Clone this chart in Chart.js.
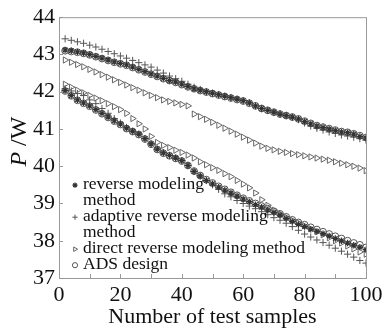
<!DOCTYPE html>
<html>
<head>
<meta charset="utf-8">
<script src="https://cdn.jsdelivr.net/npm/chart.js@4"></script>
<style>
  html, body { margin: 0; padding: 0; background: #fff; }
  #wrap { width: 390px; height: 330px; position: relative; }
</style>
</head>
<body>
<div id="wrap"><canvas id="grafico"></canvas></div>
<script>
// muestras de prueba (eje x)
const muestras = [2,4,6,8,10,12,14,16,18,20,22,24,26,28,30,32,34,36,38,40,42,44,46,48,50,
                  52,54,56,58,60,62,64,66,68,70,72,74,76,78,80,82,84,86,88,90,92,94,96,98,100];

// reverse modeling method
const inversoAlto = [43.12,43.10,43.07,43.04,43.00,42.95,42.90,42.85,42.80,42.76,42.72,42.66,42.60,42.54,42.48,42.42,42.36,42.30,42.26,42.20,42.14,42.08,42.04,42.00,41.96,
                     41.92,41.88,41.84,41.80,41.76,41.70,41.62,41.55,41.50,41.45,41.40,41.36,41.32,41.27,41.20,41.14,41.08,41.04,41.00,40.96,40.92,40.90,40.86,40.80,40.76];
const inversoBajo = [42.03,41.90,41.78,41.70,41.62,41.52,41.42,41.32,41.22,41.13,41.02,40.94,40.86,40.74,40.60,40.46,40.36,40.29,40.22,40.15,40.02,39.86,39.74,39.62,39.53,
                     39.44,39.36,39.28,39.20,39.12,39.05,38.97,38.90,38.83,38.76,38.69,38.60,38.52,38.44,38.38,38.31,38.25,38.19,38.13,38.06,38.00,37.94,37.88,37.83,37.76];

// adaptive reverse modeling method
const adaptativoAlto = [43.42,43.38,43.34,43.30,43.25,43.20,43.14,43.08,43.02,42.96,42.90,42.84,42.78,42.72,42.66,42.58,42.50,42.42,42.35,42.28,42.20,42.12,42.06,42.00,41.96,
                        41.92,41.88,41.84,41.80,41.76,41.70,41.62,41.55,41.50,41.45,41.40,41.36,41.31,41.25,41.16,41.08,41.02,40.97,40.92,40.88,40.84,40.81,40.78,40.74,40.70];
const adaptativoBajo = [42.08,42.02,41.95,41.90,41.78,41.68,41.55,41.42,41.28,41.16,41.04,40.94,40.86,40.74,40.60,40.46,40.36,40.29,40.22,40.15,40.02,39.86,39.74,39.62,39.50,
                        39.38,39.26,39.18,39.08,39.00,38.93,38.86,38.78,38.70,38.62,38.55,38.47,38.38,38.28,38.18,38.10,38.02,37.95,37.88,37.80,37.72,37.64,37.56,37.47,37.40];

// direct reverse modeling method
const directoAlto = [42.85,42.79,42.73,42.67,42.60,42.53,42.46,42.39,42.32,42.25,42.18,42.11,42.04,41.97,41.90,41.84,41.78,41.74,41.70,41.66,41.62,41.40,41.33,41.26,41.18,
                     41.10,41.02,40.94,40.86,40.78,40.70,40.62,40.54,40.48,40.44,40.40,40.37,40.34,40.31,40.28,40.25,40.22,40.19,40.16,40.12,40.08,40.04,40.00,39.95,39.88];
const directoBajo = [42.20,42.12,42.04,41.97,41.90,41.83,41.76,41.68,41.60,41.52,41.42,41.28,41.14,41.00,40.80,40.64,40.56,40.50,40.43,40.37,40.30,40.22,40.12,40.04,39.96,
                     39.89,39.80,39.72,39.62,39.52,39.42,39.28,39.10,38.95,38.82,38.72,38.63,38.55,38.48,38.40,38.32,38.24,38.16,38.08,38.00,37.94,37.86,37.78,37.70,37.64];

// ADS design
const adsAlto = [43.10,43.08,43.06,43.03,42.99,42.94,42.89,42.84,42.79,42.75,42.71,42.65,42.59,42.53,42.47,42.41,42.35,42.30,42.25,42.19,42.13,42.08,42.03,41.99,41.95,
                 41.91,41.87,41.83,41.79,41.75,41.69,41.62,41.55,41.50,41.45,41.40,41.36,41.32,41.27,41.21,41.15,41.09,41.05,41.01,40.97,40.93,40.91,40.87,40.82,40.77];
const adsBajo = [42.02,41.89,41.77,41.69,41.61,41.51,41.41,41.31,41.21,41.12,41.01,40.93,40.85,40.73,40.59,40.45,40.35,40.28,40.21,40.14,40.02,39.87,39.75,39.64,39.55,
                 39.46,39.38,39.30,39.22,39.14,39.07,39.00,38.93,38.86,38.79,38.72,38.64,38.56,38.49,38.43,38.36,38.30,38.24,38.18,38.12,38.06,38.00,37.94,37.89,37.82];

const ticksY = [37, 38, 39, 40, 41, 42, 43, 44];
const ticksX = [0, 10, 20, 30, 40, 50, 60, 70, 80, 90, 100];

const leyenda = [
    { serie: 0, lineas: ['reverse modeling', 'method'] },
    { serie: 2, lineas: ['adaptive reverse modeling', 'method'] },
    { serie: 4, lineas: ['direct reverse modeling method'] },
    { serie: 6, lineas: ['ADS design'] }
];

const FUENTE = '"Liberation Serif", "Times New Roman", serif';

function puntos(valores) {
    return muestras.map(function (x, i) { return { x: x, y: valores[i] }; });
}

// estilos de marcador por metodo
const estilos = [
    { pointStyle: 'star', borderColor: '#333', pointBorderWidth: 1.2, pointRadius: 3.2, pointRotation: 0 },
    { pointStyle: 'cross', borderColor: '#555', pointBorderWidth: 1, pointRadius: 3.6, pointRotation: 0 },
    { pointStyle: 'triangle', borderColor: '#666', pointBorderWidth: 1, pointRadius: 3.6, pointRotation: 90 },
    { pointStyle: 'circle', borderColor: '#555', pointBorderWidth: 1, pointRadius: 3.4, pointRotation: 0 }
];

const series = [inversoAlto, inversoBajo, adaptativoAlto, adaptativoBajo, directoAlto, directoBajo, adsAlto, adsBajo];

const datasets = series.map(function (valores, i) {
    const e = estilos[Math.floor(i / 2)];
    return {
        data: puntos(valores),
        showLine: false,
        pointStyle: e.pointStyle,
        pointRadius: e.pointRadius,
        pointRotation: e.pointRotation,
        pointBorderWidth: e.pointBorderWidth,
        pointBorderColor: e.borderColor,
        pointBackgroundColor: 'rgba(0,0,0,0)',
        borderColor: e.borderColor
    };
});

// marco, marcas interiores, titulo del eje y y leyenda
const extras = {
    id: 'extras',
    afterDraw: function (chart) {
        const ctx = chart.ctx;
        const area = chart.chartArea;
        const sx = chart.scales.x;
        const sy = chart.scales.y;

        ctx.save();
        ctx.strokeStyle = '#999';
        ctx.lineWidth = 1;
        ctx.strokeRect(area.left + 0.5, area.top + 0.5, area.right - area.left, area.bottom - area.top);

        ctx.beginPath();
        ticksX.forEach(function (v) {
            const px = Math.round(sx.getPixelForValue(v)) + 0.5;
            ctx.moveTo(px, area.bottom);
            ctx.lineTo(px, area.bottom - 4);
        });
        ticksY.forEach(function (v) {
            const py = Math.round(sy.getPixelForValue(v)) + 0.5;
            ctx.moveTo(area.left, py);
            ctx.lineTo(area.left + 4, py);
        });
        ctx.stroke();

        // titulo eje y: P en cursiva
        ctx.fillStyle = '#111';
        ctx.translate(20, (area.top + area.bottom) / 2 - 6);
        ctx.rotate(-Math.PI / 2);
        ctx.textBaseline = 'middle';
        ctx.font = 'italic 24px ' + FUENTE;
        const wP = ctx.measureText('P').width;
        ctx.font = '24px ' + FUENTE;
        const wW = ctx.measureText(' /W').width;
        const x0 = -(wP + wW) / 2;
        ctx.font = 'italic 24px ' + FUENTE;
        ctx.fillText('P', x0, 0);
        ctx.font = '24px ' + FUENTE;
        ctx.fillText(' /W', x0 + wP, 0);
        ctx.restore();

        // leyenda dentro del area
        ctx.save();
        ctx.font = '17.5px ' + FUENTE;
        ctx.textBaseline = 'middle';
        let y = area.top + 167;
        const xm = area.left + 16;
        const xt = area.left + 24;
        leyenda.forEach(function (item) {
            const ds = chart.data.datasets[item.serie];
            ctx.strokeStyle = ds.pointBorderColor;
            ctx.fillStyle = 'rgba(0,0,0,0)';
            ctx.lineWidth = ds.pointBorderWidth;
            Chart.helpers.drawPoint(ctx, {
                pointStyle: ds.pointStyle,
                radius: 2.6,
                rotation: ds.pointRotation,
                borderWidth: ds.pointBorderWidth
            }, xm, y + 1);
            ctx.fillStyle = '#111';
            item.lineas.forEach(function (linea) {
                ctx.fillText(linea, xt, y);
                y += 16;
            });
        });
        ctx.restore();
    }
};

new Chart(document.getElementById('grafico'), {
    type: 'scatter',
    data: { datasets: datasets },
    plugins: [extras],
    options: {
        responsive: true,
        maintainAspectRatio: false,
        animation: false,
        layout: { padding: { left: 0, right: 24, top: 15, bottom: 0 } },
        plugins: {
            legend: { display: false },
            tooltip: { enabled: false }
        },
        scales: {
            x: {
                type: 'linear',
                min: 0,
                max: 100,
                grid: { display: false, drawTicks: false },
                border: { display: false },
                afterFit: function (s) { s.height = 52; },
                afterBuildTicks: function (s) { s.ticks = ticksX.map(function (v) { return { value: v }; }); },
                ticks: {
                    padding: 4,
                    color: '#111',
                    font: { family: FUENTE, size: 22 },
                    maxRotation: 0,
                    callback: function (v) { return v % 20 === 0 ? String(v) : ''; }
                },
                title: {
                    display: true,
                    text: 'Number of test samples',
                    color: '#111',
                    font: { family: FUENTE, size: 22 },
                    padding: 0
                }
            },
            y: {
                min: 37,
                max: 44,
                grid: { display: false, drawTicks: false },
                border: { display: false },
                afterFit: function (s) { s.width = 59; },
                afterBuildTicks: function (s) { s.ticks = ticksY.map(function (v) { return { value: v }; }); },
                ticks: {
                    padding: 4,
                    color: '#111',
                    font: { family: FUENTE, size: 22 }
                }
            }
        }
    }
});
</script>
</body>
</html>
